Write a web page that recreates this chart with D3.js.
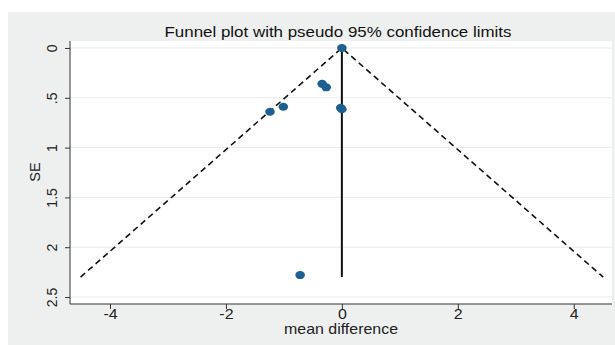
<!DOCTYPE html>
<html>
<head>
<meta charset="utf-8">
<script src="https://cdn.jsdelivr.net/npm/d3@7"></script>
<style>
  body { margin: 0; background: #fff; }
  text { font-family: "Liberation Sans", Arial, sans-serif; }
</style>
</head>
<body>
<div id="chart"></div>
<script>
// study estimates
const meanDiff = [0, -0.34, -0.27, -1.01, -1.24, -0.02, 0.0, -0.72];
const seValues = [0, 0.36, 0.395, 0.59, 0.64, 0.60, 0.615, 2.28];
const xTicks = [-4, -2, 0, 2, 4];
const yTicks = [0, 0.5, 1, 1.5, 2, 2.5];
const yTickLabels = ["0", ".5", "1", "1.5", "2", "2.5"];
const pooled = 0;
const maxSE = 2.3;

const W = 615, H = 345;
const margin = { top: 41, right: 3, bottom: 41, left: 70 };
// the source picture is stretched sideways a little
const stretch = 1.14;

const svg = d3.select('#chart').append('svg')
    .attr('width', W).attr('height', H);

// outer grey panel
svg.append('rect').attr('x', 8).attr('y', 12).attr('width', W - 8).attr('height', H - 12)
    .attr('fill', '#eef0ef');

const x = d3.scaleLinear().domain([-4.69, 4.66]).range([margin.left, W - margin.right]);
const y = d3.scaleLinear().domain([-0.07, 2.57]).range([margin.top, H - margin.bottom]);

// plot area
svg.append('rect')
    .attr('x', margin.left).attr('y', margin.top)
    .attr('width', W - margin.right - margin.left)
    .attr('height', H - margin.bottom - margin.top)
    .attr('fill', '#fff');

// gridlines
svg.append('g').selectAll('line').data(yTicks).join('line')
    .attr('x1', margin.left).attr('x2', W - margin.right)
    .attr('y1', d => y(d)).attr('y2', d => y(d))
    .attr('stroke', '#e8ecec').attr('stroke-width', 1);

// axes
const yAxis = svg.append('g')
    .attr('transform', `translate(${margin.left},0)`)
    .call(d3.axisLeft(y).tickValues(yTicks).tickFormat((d, i) => yTickLabels[i]).tickSize(5));
yAxis.selectAll('.tick text')
    .attr('transform', 'translate(-18,0) rotate(-90)')
    .attr('x', 0).attr('y', 0).attr('dy', '0.36em')
    .attr('text-anchor', 'middle');

const xAxis = svg.append('g')
    .attr('transform', `translate(0,${H - margin.bottom})`)
    .call(d3.axisBottom(x).tickValues(xTicks).tickFormat(d => String(d)).tickSize(5));
xAxis.selectAll('.tick text').attr('y', 0).attr('dy', 15.5)
    .attr('transform', `scale(${stretch},1)`);

svg.selectAll('.domain').attr('stroke', '#333');
svg.selectAll('.tick line').attr('stroke', '#333');
svg.selectAll('.tick text').attr('font-size', 14).attr('fill', '#222')
    .style('font-family', '"Liberation Sans", Arial, sans-serif');
// domain without outer tick ends
yAxis.select('.domain').attr('d', `M0,${margin.top}V${H - margin.bottom}`);
xAxis.select('.domain').attr('d', `M${margin.left},0H${W - margin.right}`);

// funnel limits
const line = d3.line().x(d => x(d[0])).y(d => y(d[1]));
svg.append('path')
    .attr('d', line([[pooled - 1.96 * maxSE, maxSE], [pooled, 0], [pooled + 1.96 * maxSE, maxSE]]))
    .attr('fill', 'none').attr('stroke', '#111').attr('stroke-width', 1.6)
    .attr('stroke-dasharray', '6,4');

// pooled estimate line
svg.append('path')
    .attr('d', line([[pooled, 0], [pooled, maxSE]]))
    .attr('stroke', '#111').attr('stroke-width', 2);

// studies
svg.append('g').selectAll('ellipse').data(meanDiff).join('ellipse')
    .attr('cx', d => x(d)).attr('cy', (d, i) => y(seValues[i]))
    .attr('rx', 4.8).attr('ry', 4)
    .attr('fill', '#1d5f8e');

// labels
svg.append('text').attr('transform', `translate(338,37) scale(1.21,1)`)
    .attr('text-anchor', 'middle')
    .attr('font-size', 14).attr('fill', '#111')
    .text('Funnel plot with pseudo 95% confidence limits');
svg.append('text').attr('transform', `translate(341,334) scale(${stretch},1)`)
    .attr('text-anchor', 'middle')
    .attr('font-size', 14).attr('fill', '#222').text('mean difference');
svg.append('text').attr('transform', 'translate(40,172) rotate(-90)')
    .attr('text-anchor', 'middle').attr('font-size', 14.5).attr('fill', '#222').text('SE');
</script>
</body>
</html>
